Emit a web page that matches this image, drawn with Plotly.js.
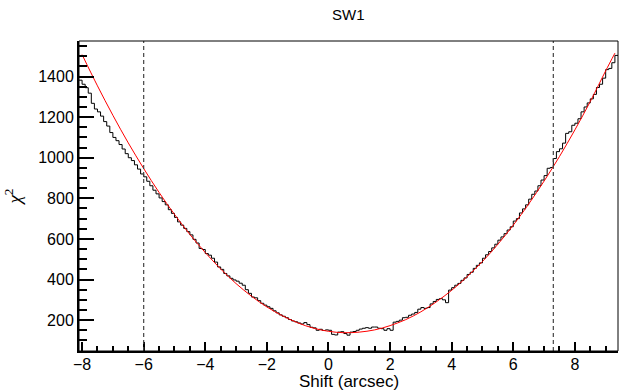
<!DOCTYPE html>
<html>
<head>
<meta charset="utf-8">
<script src="https://cdn.plot.ly/plotly-3.0.1.min.js"></script>
<style>
  html, body { margin: 0; padding: 0; background: #ffffff; }
  #chart { width: 639px; height: 392px; }
</style>
</head>
<body>
<div id="chart"></div>
<script>
// chi-square scan over the SW1 shift, 0.1 arcsec bins starting at -8.1
const binLow = -8.1;
const binWidth = 0.1;
const chi2Values = [
  1382, 1362, 1345, 1318, 1268, 1240, 1226, 1205, 1178, 1156,
  1124, 1100, 1084, 1065, 1043, 1020, 1000, 986, 965, 944,
  920, 906, 884, 862, 840, 822, 802, 784, 768, 744,
  726, 706, 684, 668, 652, 636, 620, 598, 580, 553,
  548, 528, 520, 505, 486, 462, 450, 430, 418, 406,
  398, 392, 382, 372, 350, 332, 314, 310, 296, 283,
  274, 266, 258, 246, 236, 226, 219, 212, 203, 196,
  192, 186, 181, 188, 178, 165, 162, 150, 155, 149,
  152, 150, 130, 127, 141, 143, 134, 126, 141, 144,
  150, 156, 160, 163, 160, 166, 166, 160, 158, 150,
  158, 150, 190, 194, 200, 212, 214, 224, 230, 238,
  254, 262, 258, 262, 280, 292, 302, 306, 300, 286,
  348, 360, 372, 381, 396, 408, 425, 436, 455, 470,
  482, 505, 522, 538, 556, 574, 594, 610, 626, 644,
  660, 688, 700, 728, 748, 768, 796, 820, 836, 862,
  890, 912, 948, 952, 996, 1030, 1044, 1072, 1120, 1128,
  1160, 1170, 1192, 1226, 1250, 1270, 1290, 1312, 1346, 1362,
  1392, 1434, 1440, 1468, 1504
];

// fitted parabola, tabulated along the fit range
const fitX = [-8.0, -7.5, -7, -6.5, -6, -5.5, -5, -4.5, -4, -3.5, -3, -2.5, -2, -1.5, -1, -0.5,
              0, 0.5, 1, 1.5, 2, 2.5, 3, 3.5, 4, 4.5, 5, 5.5, 6, 6.5, 7, 7.5, 8, 8.5, 9, 9.3];
const fitY = [1508, 1354, 1209, 1073, 947, 829, 721, 622, 533, 452, 380, 318, 265, 222, 187, 161,
              145, 138, 141, 152, 173, 202, 241, 290, 347, 414, 489, 574, 668, 772, 885, 1006, 1137, 1277, 1428, 1515];

// interval boundaries marked with dashed lines
const boundX = [-6.0, 7.3];

// step outline of the histogram: left edges plus the final right edge
const edgeX = [];
const edgeY = [];
for (let i = 0; i <= chi2Values.length; i++) {
  edgeX.push(binLow + i * binWidth);
  edgeY.push(chi2Values[Math.min(i, chi2Values.length - 1)]);
}

const font = 'Liberation Sans, Arial, Helvetica, sans-serif';

const traces = [
  {
    x: edgeX, y: edgeY, type: 'scatter', mode: 'lines',
    line: { shape: 'hv', color: '#000000', width: 1 },
    hoverinfo: 'skip'
  },
  {
    x: fitX, y: fitY, type: 'scatter', mode: 'lines',
    line: { shape: 'spline', color: '#ff0000', width: 1 },
    hoverinfo: 'skip'
  }
];

const shapes = boundX.map(v => ({
  type: 'line', xref: 'x', yref: 'paper', x0: v, x1: v, y0: 0, y1: 1,
  line: { color: '#444444', width: 1.2, dash: '4px,3px' }
}));
shapes.push({
  type: 'rect', xref: 'paper', yref: 'paper', x0: 0, x1: 1, y0: 0, y1: 1,
  line: { color: '#000000', width: 1 }, fillcolor: 'rgba(0,0,0,0)'
});

const layout = {
  width: 639, height: 392,
  margin: { l: 79, r: 21, t: 41, b: 41 },
  paper_bgcolor: '#ffffff', plot_bgcolor: '#ffffff',
  showlegend: false,
  font: { family: font, color: '#000000', size: 16 },
  title: {
    text: 'SW1', font: { family: font, size: 15, color: '#000000' },
    x: 0.545, xanchor: 'center', y: 0.962, yanchor: 'middle'
  },
  xaxis: {
    range: [-8.1, 9.4],
    showgrid: false, zeroline: false,
    showline: true, linecolor: '#000000', linewidth: 2, mirror: false,
    ticks: 'inside', ticklen: 9, tickwidth: 2, tickcolor: '#000000',
    dtick: 2, tick0: 0,
    ticklabelstandoff: -2,
    tickfont: { family: font, size: 16 },
    minor: { ticks: 'inside', ticklen: 5, tickwidth: 2, tickcolor: '#000000', dtick: 0.5 }
  },
  yaxis: {
    range: [48, 1575],
    showgrid: false, zeroline: false,
    showline: true, linecolor: '#000000', linewidth: 2, mirror: false,
    ticks: 'inside', ticklen: 15, tickwidth: 2, tickcolor: '#000000',
    dtick: 200, tick0: 0,
    tickfont: { family: font, size: 16 },
    minor: { ticks: 'inside', ticklen: 8, tickwidth: 2, tickcolor: '#000000', dtick: 50 },
    title: { text: '<i>χ</i><sup>2</sup>', font: { family: 'Liberation Serif, DejaVu Serif, serif', size: 19 }, standoff: 12 }
  },
  annotations: [{
    text: 'Shift (arcsec)', xref: 'paper', yref: 'paper',
    x: 0.5, y: -0.0985, xanchor: 'center', yanchor: 'middle',
    showarrow: false, font: { family: font, size: 17, color: '#000000' }
  }],
  shapes: shapes
};

Plotly.newPlot('chart', traces, layout, { staticPlot: true, displayModeBar: false });
</script>
</body>
</html>
